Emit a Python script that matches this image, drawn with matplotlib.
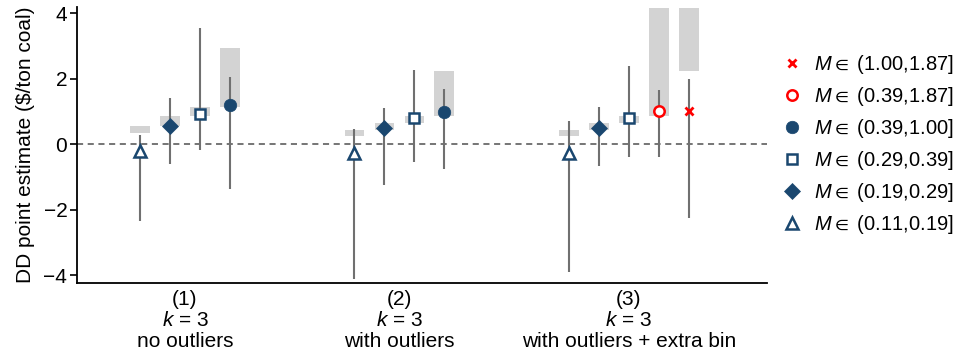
import matplotlib
matplotlib.use("Agg")
import matplotlib.pyplot as plt
from matplotlib.lines import Line2D

plt.rcParams['font.family'] = ['Liberation Sans', 'DejaVu Sans']
plt.rcParams['mathtext.fontset'] = 'custom'
plt.rcParams['mathtext.rm'] = 'Liberation Sans'
plt.rcParams['mathtext.it'] = 'Liberation Sans:italic'
plt.rcParams['mathtext.fallback'] = 'stixsans'

# bins of M (legend labels)
bins = ['(0.11,0.19]', '(0.19,0.29]', '(0.29,0.39]', '(0.39,1.00]', '(0.39,1.87]', '(1.00,1.87]']

# columns
groups = ['(1)\n$k$ = 3\nno outliers',
          '(2)\n$k$ = 3\nwith outliers',
          '(3)\n$k$ = 3\nwith outliers + extra bin']
group_bins = [[0, 1, 2, 3], [0, 1, 2, 3], [0, 1, 2, 4, 5]]

# point estimates and confidence intervals
est = [[-0.21, 0.55, 0.93, 1.20],
       [-0.27, 0.48, 0.80, 0.99],
       [-0.27, 0.48, 0.80, 1.01, 1.01]]
ci_lo = [[-2.36, -0.61, -0.18, -1.36],
         [-4.12, -1.26, -0.53, -0.76],
         [-3.90, -0.67, -0.38, -0.40, -2.27]]
ci_hi = [[0.27, 1.41, 3.54, 2.04],
         [0.45, 1.12, 2.26, 1.70],
         [0.70, 1.15, 2.39, 1.67, 1.98]]

# gray bands (bin range scaled)
band_lo = [[0.33, 0.57, 0.86, 1.15],
           [0.245, 0.43, 0.65, 0.87],
           [0.245, 0.43, 0.65, 0.87, 2.23]]
band_hi = [[0.55, 0.86, 1.15, 2.93],
           [0.43, 0.65, 0.87, 2.23],
           [0.43, 0.65, 0.87, 4.17, 4.17]]

navy = '#1a476f'
styles = [
    dict(marker='^', ms=8.5, mfc='white', mec=navy, mew=1.8),
    dict(marker='D', ms=8, mfc=navy, mec=navy, mew=0.5),
    dict(marker='s', ms=7, mfc='white', mec=navy, mew=1.8),
    dict(marker='o', ms=9, mfc=navy, mec=navy, mew=0.5),
    dict(marker='o', ms=7.5, mfc='white', mec='red', mew=1.8),
    dict(marker='x', ms=6, mfc='red', mec='red', mew=2),
]

fig = plt.figure(figsize=(9.57, 3.51), dpi=100)
ax = fig.add_axes([0.0805, 0.1929, 0.7207, 0.788])

step = 7.15
centers = []
for g in range(len(groups)):
    xs = [g * step + j for j in range(len(group_bins[g]))]
    centers.append(sum(xs) / len(xs))
    for j, b in enumerate(group_bins[g]):
        x = xs[j]
        ax.bar(x, band_hi[g][j] - band_lo[g][j], bottom=band_lo[g][j], width=0.66,
               color='#d3d3d3', zorder=1)
        ax.plot([x, x], [ci_lo[g][j], ci_hi[g][j]], color='#707070', lw=1.5,
                solid_capstyle='butt', zorder=2)
        ax.plot([x], [est[g][j]], ls='none', zorder=3, **styles[b])

ax.axhline(0, color='#505050', lw=1.1, ls=(0, (4, 3)), zorder=1.5)

ax.set_xlim(-2.1, 20.9)
ax.set_ylim(-4.25, 4.2)
ax.set_yticks([-4, -2, 0, 2, 4])
ax.set_xticks(centers)
ax.set_xticklabels(groups, fontsize=15, linespacing=1.12)
ax.tick_params(axis='x', length=0, pad=5)
ax.tick_params(axis='y', length=5, width=1.2, labelsize=15, pad=2)
ax.set_ylabel('DD point estimate ($/ton coal)', fontsize=15, labelpad=6)
for s in ['top', 'right']:
    ax.spines[s].set_visible(False)
for s in ['left', 'bottom']:
    ax.spines[s].set_linewidth(1.3)

order = [5, 4, 3, 2, 1, 0]
handles = [Line2D([], [], ls='none', **styles[i]) for i in order]
labels = ['$M \\in$ ' + bins[i] for i in order]
fig.legend(handles, labels, loc='center left', bbox_to_anchor=(0.807, 0.589),
           frameon=False, fontsize=14.5, handlelength=1.0, handletextpad=0.55,
           borderpad=0, labelspacing=0.45)

fig.savefig('out.png', dpi=100)
